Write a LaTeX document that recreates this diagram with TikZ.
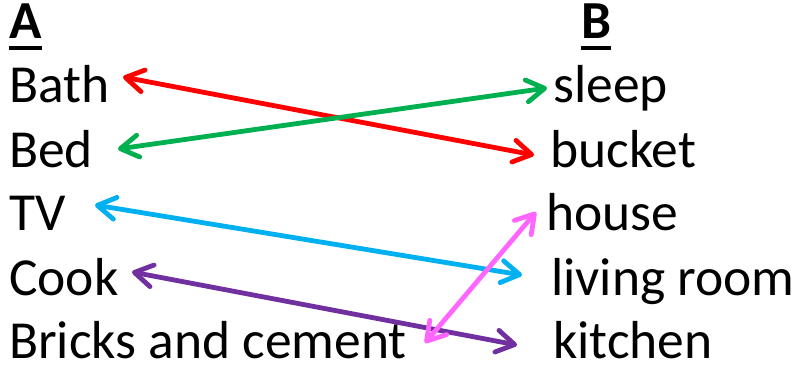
\documentclass[tikz,border=0pt]{standalone}
\usepackage{fontspec}
\setmainfont{Carlito}
\usetikzlibrary{arrows.meta}
\definecolor{cred}{HTML}{FF0000}
\definecolor{cgreen}{HTML}{00B050}
\definecolor{cblue}{HTML}{00B0F0}
\definecolor{cpurple}{HTML}{7030A0}
\definecolor{cpink}{HTML}{FF66FF}
\newcommand\myul[1]{\setbox0\hbox{#1}\rlap{\rule[-12pt]{\wd0}{4.5pt}}\box0}
\begin{document}
\begin{tikzpicture}[x=1pt,y=-1pt,
  word/.style={anchor=base west,inner sep=0pt,font=\fontsize{53.5}{60}\selectfont},
  link/.style={line width=4.8pt,line cap=round,
    {Straight Barb[length=18pt,width=22pt,round]}-{Straight Barb[length=18pt,width=22pt,round]}}]
\useasboundingbox (0,0) rectangle (795,365);
\node[word] (ha) at (9,38) {\myul{\textbf{A}}};
\node[word] (hb) at (581,38) {\myul{\textbf{B}}};
\node[word] (bath) at (9,102.5) {Bath};
\node[word] (bed) at (9,167) {Bed};
\node[word] (tv) at (9,230.5) {TV};
\node[word] (cook) at (9,295) {Cook};
\node[word] (bricks) at (9,358) {Bricks and cement};
\node[word] (sleep) at (553,102.5) {sleep};
\node[word] (bucket) at (550,167) {bucket};
\node[word] (house) at (546,230.5) {house};
\node[word] (living) at (551,295) {living room};
\node[word] (kitchen) at (553,358) {kitchen};
% arrow ends beside the words
\coordinate (bathE) at (123,77);
\coordinate (bucketW) at (534,155);
\coordinate (bedE) at (118,149);
\coordinate (sleepW) at (547,88);
\coordinate (tvE) at (95,205);
\coordinate (livingW) at (522,275);
\coordinate (cookE) at (132,272);
\coordinate (kitchenW) at (517,345);
\coordinate (bricksE) at (425,343);
\coordinate (houseW) at (536,212);
\draw[link,cred] (bathE) -- (bucketW);
\draw[link,cgreen] (bedE) -- (sleepW);
\draw[link,cblue] (tvE) -- (livingW);
\draw[link,cpurple] (cookE) -- (kitchenW);
\draw[link,cpink] (bricksE) -- (houseW);
\end{tikzpicture}
\end{document}
